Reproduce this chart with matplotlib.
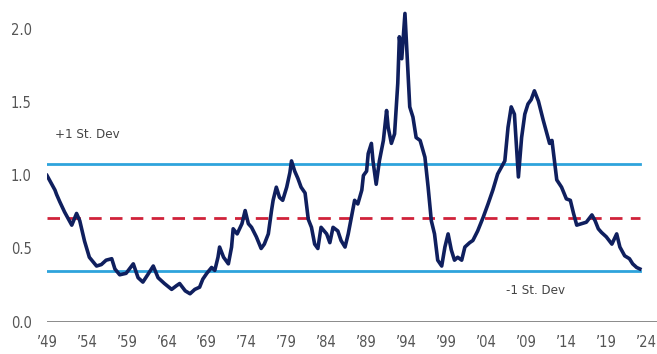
import matplotlib
matplotlib.use("Agg")
import matplotlib.pyplot as plt
from matplotlib import font_manager

names = {f.name for f in font_manager.fontManager.ttflist}
cond = [f.fname for f in font_manager.fontManager.ttflist
        if f.fname.endswith("DejaVuSansCondensed.ttf")]
if "Liberation Sans Narrow" in names:
    FONT_KW = dict(family=["Liberation Sans Narrow", "DejaVu Sans"])
elif cond:
    FONT_KW = dict(fname=cond[0])
else:
    FONT_KW = dict(family=["DejaVu Sans"])
plt.rcParams["font.family"] = ["DejaVu Sans"]

years = [1949.0, 1950.0, 1950.2, 1950.6, 1951.2, 1952.1, 1952.7, 1953.1, 1953.7, 1954.3,
         1955.2, 1955.8, 1956.4, 1957.1, 1957.5, 1958.1, 1958.9, 1959.8, 1960.4, 1961.0,
         1961.6, 1962.3, 1962.9, 1963.7, 1964.6, 1965.2, 1965.6, 1966.3, 1966.9, 1967.5,
         1968.1, 1968.5, 1969.0, 1969.6, 1970.0, 1970.4, 1970.6, 1971.1, 1971.7, 1972.1,
         1972.3, 1972.8, 1973.4, 1973.8, 1974.2, 1974.6, 1975.2, 1975.8, 1976.2, 1976.7,
         1977.1, 1977.3, 1977.7, 1978.1, 1978.5, 1979.0, 1979.4, 1979.6, 1980.0, 1980.4,
         1980.8, 1981.3, 1981.7, 1982.1, 1982.5, 1982.9, 1983.3, 1984.0, 1984.4, 1984.8,
         1985.4, 1985.8, 1986.3, 1986.7, 1987.1, 1987.5, 1987.9, 1988.4, 1988.6, 1989.0,
         1989.2, 1989.6, 1989.8, 1990.2, 1990.6, 1991.1, 1991.5, 1991.7, 1992.1, 1992.5,
         1992.9, 1993.1, 1993.4, 1993.8, 1994.0, 1994.4, 1994.8, 1995.2, 1995.7, 1996.3,
         1996.7, 1997.1, 1997.5, 1997.9, 1998.4, 1998.8, 1999.2, 1999.6, 2000.0, 2000.4,
         2000.9, 2001.3, 2001.9, 2002.3, 2002.9, 2003.6, 2004.2, 2004.8, 2005.4, 2005.9,
         2006.3, 2006.7, 2007.1, 2007.5, 2008.0, 2008.4, 2008.8, 2009.2, 2009.6, 2010.0,
         2010.5, 2011.1, 2011.7, 2011.9, 2012.2, 2012.6, 2012.8, 2013.4, 2014.0, 2014.5,
         2014.9, 2015.3, 2015.9, 2016.5, 2017.2, 2017.6, 2018.0, 2018.4, 2019.0, 2019.7,
         2020.3, 2020.7, 2021.3, 2021.9, 2022.3, 2022.8, 2023.2]
values = [1.00, 0.90, 0.87, 0.82, 0.75, 0.66, 0.74, 0.69, 0.55, 0.44,
          0.38, 0.39, 0.42, 0.43, 0.36, 0.32, 0.33, 0.395, 0.30, 0.27,
          0.32, 0.38, 0.30, 0.26, 0.22, 0.245, 0.26, 0.21, 0.19, 0.22,
          0.235, 0.29, 0.33, 0.37, 0.35, 0.44, 0.51, 0.44, 0.395, 0.51,
          0.635, 0.60, 0.67, 0.76, 0.67, 0.645, 0.58, 0.50, 0.53, 0.60,
          0.76, 0.83, 0.92, 0.85, 0.83, 0.92, 1.02, 1.10, 1.03, 0.98,
          0.92, 0.88, 0.70, 0.645, 0.53, 0.50, 0.645, 0.60, 0.54, 0.645,
          0.62, 0.555, 0.51, 0.60, 0.715, 0.83, 0.805, 0.90, 1.00, 1.03,
          1.15, 1.22, 1.10, 0.94, 1.10, 1.24, 1.445, 1.33, 1.22, 1.285,
          1.63, 1.95, 1.80, 2.11, 1.90, 1.47, 1.40, 1.26, 1.24, 1.125,
          0.92, 0.69, 0.60, 0.42, 0.38, 0.51, 0.60, 0.49, 0.42, 0.44,
          0.42, 0.51, 0.54, 0.555, 0.62, 0.715, 0.805, 0.90, 1.01, 1.06,
          1.10, 1.33, 1.47, 1.42, 0.99, 1.26, 1.42, 1.49, 1.52, 1.58,
          1.51, 1.38, 1.26, 1.22, 1.24, 1.06, 0.97, 0.92, 0.84, 0.83,
          0.74, 0.66, 0.67, 0.68, 0.73, 0.69, 0.635, 0.61, 0.58, 0.53,
          0.60, 0.51, 0.45, 0.43, 0.395, 0.37, 0.36]

mean_val = 0.71
plus_sd = 1.08
minus_sd = 0.345
tick_years = list(range(1949, 2025, 5))
tick_labels = ["\u2019" + str(y)[2:] for y in tick_years]
y_ticks = [0.0, 0.5, 1.0, 1.5, 2.0]

fig = plt.figure(figsize=(6.57, 3.54), dpi=100)
ax = fig.add_axes([47 / 657, (354 - 321.5) / 354, 610 / 657, 2.2 * 146 / 354])
x_end = 1949 + 610 / 7.99
ax.set_xlim(1949, x_end)
ax.set_ylim(0, 2.2)

line_end = 2023.2
ax.plot([1949, line_end], [plus_sd, plus_sd], color="#2ea3dc", lw=2.0, zorder=2)
ax.plot([1949, line_end], [minus_sd, minus_sd], color="#2ea3dc", lw=2.0, zorder=2)
ax.plot([1949, line_end], [mean_val, mean_val], color="#d0223a", lw=2.0,
        dashes=(4.5, 3.0), zorder=2)
ax.plot(years, values, color="#0f1f5e", lw=2.6, zorder=3, solid_joinstyle="round")
ax.axhline(0, color="#8a8a8a", lw=1.4, zorder=1)

for s in ax.spines.values():
    s.set_visible(False)
ax.set_xticks(tick_years)
ax.set_yticks(y_ticks)
fp = font_manager.FontProperties(size=10.5, **FONT_KW)
ax.set_xticklabels(tick_labels, fontproperties=fp, color="#555555")
ax.set_yticklabels([f"{v:.1f}" for v in y_ticks], fontproperties=fp, color="#555555")
ax.tick_params(axis="both", length=0)
ax.tick_params(axis="x", pad=10)
ax.tick_params(axis="y", pad=11)

fp2 = font_manager.FontProperties(size=9.5, **FONT_KW)
ax.text(1950.0, 1.28, "+1 St. Dev", fontproperties=fp2, color="#444444", va="center", ha="left")
ax.text(2006.4, 0.21, "-1 St. Dev", fontproperties=fp2, color="#444444", va="center", ha="left")

fig.savefig("out.png", dpi=100)
